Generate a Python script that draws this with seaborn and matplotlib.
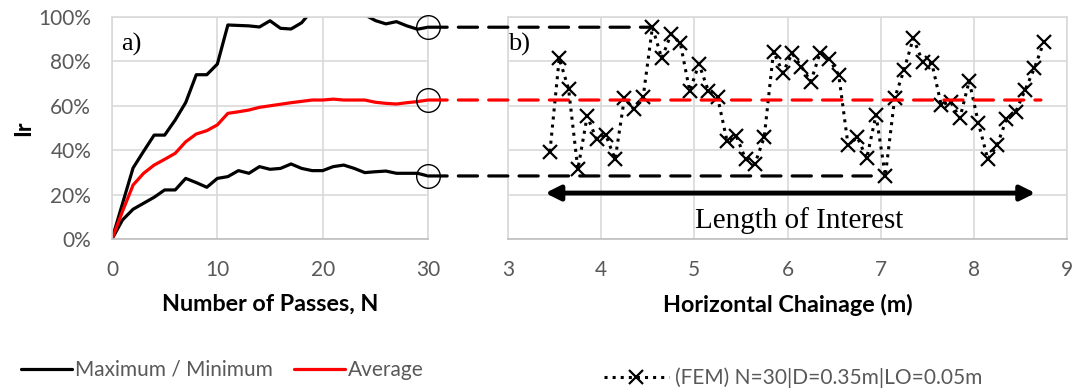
import matplotlib
matplotlib.use("Agg")
import matplotlib.pyplot as plt
from matplotlib.ticker import PercentFormatter, MultipleLocator
from matplotlib.patches import ConnectionPatch
from matplotlib.lines import Line2D
import seaborn as sns
import numpy as np

# ---------------- data ----------------
passes = list(range(0, 31))
ir_max = [0, 16, 32, 39.5, 46.8, 46.8, 53.6, 61.5, 74, 74, 78.8, 96.4, 96.2, 96.0, 95.5,
          98.3, 94.9, 94.6, 97.4, 103, 106, 108, 107, 105, 101, 98.4, 96.9, 97.9, 96.0, 94.5, 95.4]
ir_avg = [0, 12.5, 24.3, 29.6, 33.3, 35.9, 38.6, 43.8, 47.3, 48.8, 51.4, 56.6, 57.3, 58.1, 59.3,
          60.0, 60.7, 61.4, 62.0, 62.6, 62.6, 63.0, 62.6, 62.6, 62.6, 61.6, 61.1, 60.8, 61.4, 61.9, 62.6]
ir_min = [0, 8.6, 13.4, 16.1, 18.8, 22.1, 22.1, 27.3, 25.4, 23.3, 27.3, 28.1, 30.8, 29.6, 32.6,
          31.4, 31.8, 33.8, 31.8, 30.8, 30.8, 32.6, 33.3, 31.8, 29.9, 30.3, 30.6, 29.6, 29.6, 29.6, 28.4]

chainage = [3.45, 3.55, 3.65, 3.75, 3.85, 3.95, 4.05, 4.15, 4.25, 4.35,
            4.45, 4.55, 4.65, 4.75, 4.85, 4.95, 5.05, 5.15, 5.25, 5.35,
            5.45, 5.55, 5.65, 5.75, 5.85, 5.95, 6.05, 6.15, 6.25, 6.35,
            6.45, 6.55, 6.65, 6.75, 6.85, 6.95, 7.05, 7.15, 7.25, 7.35,
            7.45, 7.55, 7.65, 7.75, 7.85, 7.95, 8.05, 8.15, 8.25, 8.35,
            8.45, 8.55, 8.65, 8.75]
ir_fem = [39.3, 81.4, 67.6, 31.4, 55.4, 44.9, 46.8, 35.9, 63.6, 58.4,
          63.8, 95.4, 81.4, 92.3, 88.1, 66.7, 78.8, 66.8, 63.8, 44.3,
          46.4, 36.0, 33.8, 45.8, 84.4, 74.9, 83.6, 77.6, 70.9, 83.9,
          80.9, 73.9, 42.3, 45.8, 36.3, 55.9, 28.4, 63.4, 76.1, 90.4,
          79.9, 79.1, 60.4, 61.9, 54.4, 71.2, 52.1, 35.9, 42.3, 53.9,
          57.3, 67.1, 76.9, 88.6]

left_xticks = [0, 10, 20, 30]
right_xticks = [3, 4, 5, 6, 7, 8, 9]

# ---------------- style ----------------
sns.set_theme(style="white")
plt.rcParams['font.family'] = ['Lato', 'DejaVu Sans']
GRID = "#d9d9d9"
TICK = "#595959"

fig = plt.figure(figsize=(10.76, 3.9), dpi=100)
ax1 = fig.add_axes([112/1076, 151/390, 316/1076, 222/390])
ax2 = fig.add_axes([508/1076, 151/390, 559/1076, 222/390])

for ax in (ax1, ax2):
    ax.set_ylim(0, 100)
    ax.yaxis.set_major_locator(MultipleLocator(20))
    ax.grid(True, color=GRID, lw=1.2)
    ax.set_axisbelow(True)
    for s in ax.spines.values():
        s.set_color(GRID)
        s.set_linewidth(1.2)
    ax.spines['bottom'].set_color("#bfbfbf")
    ax.tick_params(length=0, labelsize=15, colors=TICK)

# left panel
sns.lineplot(x=passes, y=ir_max, ax=ax1, color="black", lw=2.3)
sns.lineplot(x=passes, y=ir_min, ax=ax1, color="black", lw=2.3)
sns.lineplot(x=passes, y=ir_avg, ax=ax1, color="#ff0000", lw=2.3)
ax1.set_xlim(0, 30)
ax1.set_xticks(left_xticks)
ax1.yaxis.set_major_formatter(PercentFormatter(100, decimals=0))
ax1.tick_params(axis='x', pad=15)
ax1.tick_params(axis='y', pad=15)
ax1.set_xlabel("Number of Passes, N", fontsize=16.8, fontweight='bold', color='black', labelpad=10)
ax1.set_ylabel("Ir", fontsize=16.8, fontweight='bold', color='black', labelpad=3)
ax1.text(0.03, 0.93, "a)", transform=ax1.transAxes, fontsize=19, family='Liberation Serif',
         va='top', ha='left', color='black')

# circles at N=30
last_vals = [ir_max[-1], ir_avg[-1], ir_min[-1]]
ax1.plot([passes[-1]] * 3, last_vals, linestyle='none', marker='o', ms=17,
         mfc='none', mec='black', mew=1.0, clip_on=False, zorder=5)

# right panel
sns.lineplot(x=chainage, y=ir_fem, ax=ax2, color="black", lw=2.2, linestyle=':',
             marker='x', ms=10, mew=1.6, mec='black')
ax2.set_xlim(3, 9)
ax2.set_xticks(right_xticks)
ax2.set_yticklabels([])
ax2.tick_params(axis='x', pad=15)
ax2.set_xlabel("Horizontal Chainage (m)", fontsize=16.8, fontweight='bold', color='black', labelpad=10)
ax2.set_ylabel("")
ax2.text(0.0, 0.93, "b)", transform=ax2.transAxes, fontsize=19, family='Liberation Serif',
         va='top', ha='left', color='black')

# connectors
i_max = int(np.argmax(ir_fem))
i_min = int(np.argmin(ir_fem))
for yl, xr, col in [(ir_max[-1], chainage[i_max], 'black'),
                    (ir_avg[-1], chainage[-1] - 0.03, '#ff0000'),
                    (ir_min[-1], chainage[i_min] - 0.15, 'black')]:
    con = ConnectionPatch(xyA=(passes[-1], yl), coordsA=ax1.transData,
                          xyB=(xr, yl), coordsB=ax2.transData,
                          color=col, lw=2.3, linestyle=(0, (6, 3.5)), zorder=4)
    fig.add_artist(con)

# length of interest arrow
ax2.annotate("", xy=(3.40, 20.7), xytext=(8.66, 20.7),
             arrowprops=dict(arrowstyle='<|-|>', color='black', lw=3.5, mutation_scale=22,
                             shrinkA=0, shrinkB=0))
ax2.text(6.13, 8.5, "Length of Interest", fontsize=21, family='Liberation Serif',
         ha='center', va='center', color='black')

# legends
h1 = [Line2D([], [], color='black', lw=2.3), Line2D([], [], color='#ff0000', lw=2.3)]
leg1 = fig.legend(h1, ["Maximum / Minimum", "Average"], loc='center left',
                  bbox_to_anchor=(21/1076, 1 - 370/390), ncol=2, frameon=False,
                  fontsize=15, handlelength=2.45, handletextpad=0.15, columnspacing=1.0,
                  borderpad=0, borderaxespad=0, labelcolor=TICK)
h2 = [Line2D([], [], color='black', lw=2.2, linestyle=':', marker='x', ms=10, mew=1.6)]
leg2 = fig.legend(h2, ["(FEM) N=30|D=0.35m|LO=0.05m"], loc='center left',
                  bbox_to_anchor=(604/1076, 1 - 378/390), frameon=False,
                  fontsize=15, handlelength=3.1, handletextpad=0.3,
                  borderpad=0, borderaxespad=0, labelcolor=TICK)

fig.savefig("out.png", dpi=100)
